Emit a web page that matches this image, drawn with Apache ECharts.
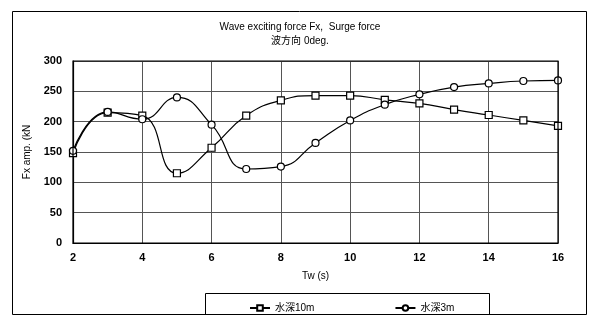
<!DOCTYPE html>
<html>
<head>
<meta charset="utf-8">
<script src="https://cdn.jsdelivr.net/npm/echarts@6/dist/echarts.min.js"></script>
<style>html,body{margin:0;padding:0;background:#fff;}#c{width:600px;height:323px;}</style>
</head>
<body>
<div id="c"></div>
<script>
var periods = [2, 3, 4, 5, 6, 7, 8, 9, 10, 11, 12, 13, 14, 15, 16];
var depth10m = [148, 215, 210, 115, 157, 210, 235, 243, 243, 236, 230, 220, 211, 202, 193];
var depth3m = [152, 216, 204, 240, 195, 122, 126, 165, 202, 228, 245, 257, 263, 267, 268];
var seriesNames = ['水深10m', '水深3m'];
var titleLines = ['Wave exciting force Fx,  Surge force', '波方向 0deg.'];

function pairs(xs, ys) { return xs.map(function (x, i) { return [x, ys[i]]; }); }

var font = '"Liberation Sans", Arial, "Noto Sans CJK JP", sans-serif';
var chart = echarts.init(document.getElementById('c'));
chart.setOption({
  animation: false,
  backgroundColor: '#fff',
  title: {
    text: titleLines.join('\n'),
    left: 'center', top: 15,
    textStyle: { fontFamily: font, fontSize: 10, fontWeight: 'normal', color: '#000', lineHeight: 14 }
  },
  grid: { left: 73, right: 42, top: 61, bottom: 80 },
  xAxis: {
    type: 'value', min: 2, max: 16, interval: 2,
    name: 'Tw (s)', nameLocation: 'middle', nameGap: 28,
    nameTextStyle: { fontFamily: font, fontSize: 10, color: '#000' },
    axisLine: { show: true, lineStyle: { color: '#000', width: 1.2 } },
    axisTick: { show: false },
    axisLabel: { fontFamily: font, fontSize: 11, fontWeight: 'bold', color: '#000', margin: 9 },
    splitLine: { show: true, lineStyle: { color: '#555', width: 1 } }
  },
  yAxis: {
    type: 'value', min: 0, max: 300, interval: 50,
    name: 'Fx amp. (kN', nameLocation: 'middle', nameGap: 37, nameRotate: 90,
    nameTextStyle: { fontFamily: font, fontSize: 10, color: '#000' },
    axisLine: { show: true, lineStyle: { color: '#000', width: 1.2 } },
    axisTick: { show: false },
    axisLabel: { fontFamily: font, fontSize: 11, fontWeight: 'bold', color: '#000', margin: 11 },
    splitLine: { show: true, lineStyle: { color: '#555', width: 1 } }
  },
  legend: {
    left: 244, top: 298, itemGap: 80, itemWidth: 20, itemHeight: 7,
    textStyle: { fontFamily: font, fontSize: 10, color: '#000' },
    data: seriesNames
  },
  graphic: [
    { type: 'rect', shape: { x: 12.5, y: 11.5, width: 574, height: 303 }, style: { fill: 'none', stroke: '#000', lineWidth: 1 }, silent: true },
    { type: 'rect', shape: { x: 205.5, y: 293.5, width: 284, height: 21 }, style: { fill: 'none', stroke: '#000', lineWidth: 1 }, silent: true },
    { type: 'rect', shape: { x: 73, y: 61, width: 485, height: 182 }, style: { fill: 'none', stroke: '#000', lineWidth: 1.2 }, silent: true, z: 10 }
  ],
  series: [
    {
      name: seriesNames[0], type: 'line', data: pairs(periods, depth10m), smooth: 0.5,
      symbol: 'rect', symbolSize: 7, showAllSymbol: true,
      lineStyle: { color: '#000', width: 1.2 },
      itemStyle: { color: '#fff', borderColor: '#000', borderWidth: 1.2 }, z: 3
    },
    {
      name: seriesNames[1], type: 'line', data: pairs(periods, depth3m), smooth: 0.5,
      symbol: 'circle', symbolSize: 7, showAllSymbol: true,
      lineStyle: { color: '#000', width: 1.2 },
      itemStyle: { color: '#fff', borderColor: '#000', borderWidth: 1.2 }, z: 3
    }
  ]
});
</script>
</body>
</html>
